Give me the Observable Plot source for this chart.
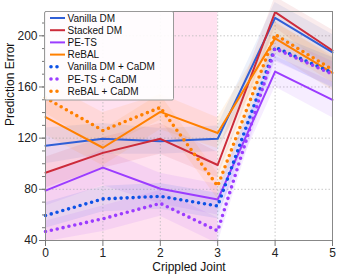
<!DOCTYPE html>
<html>
<head>
<meta charset="utf-8">
<script src="https://cdn.jsdelivr.net/npm/d3@7"></script>
<script src="https://cdn.jsdelivr.net/npm/@observablehq/plot@0.6"></script>
<style>
  html, body { margin: 0; padding: 0; background: #fff; }
  #chart { position: relative; width: 349px; height: 279px; }
</style>
</head>
<body>
<div id="chart"></div>
<script>
const joints = [0, 1, 2, 3, 4, 5];
const seriesNames = ["Vanilla DM", "Stacked DM", "PE-TS", "ReBAL", "Vanilla DM + CaDM", "PE-TS + CaDM", "ReBAL + CaDM"];
const seriesColors = ["#2f5fd6", "#cc2b3a", "#9b3cff", "#ff8000", "#0d52e6", "#9b3cff", "#ff8000"];
const seriesDotted = [false, false, false, false, true, true, true];

const vanillaDM   = [114, 119.5, 117.5, 119.5, 214, 187];
const stackedDM   = [93, 108.5, 119.5, 99, 218.5, 188.5];
const peTS        = [79, 97, 80.5, 72, 172, 150];
const reBAL       = [136.5, 112.5, 140.5, 124, 198, 171];
const vanillaCaDM = [59.5, 72.5, 74.5, 67, 191, 171];
const peTSCaDM    = [47, 57, 69, 47.5, 190, 170];
const reBALCaDM   = [151.5, 126, 144, 82.5, 201, 173.5];

const vanillaDMErr   = [14, 12, 10, 10, 12, 14];
const stackedDMErr   = [12, 12, 12, 10, 12, 16];
const peTSErr        = [12, 14, 12, 12, 12, 14];
const reBALErr       = [14, 14, 14, 12, 12, 14];
const vanillaCaDMErr = [10, 10, 10, 10, 10, 12];
const peTSCaDMErr    = [8, 10, 10, 10, 10, 10];
const reBALCaDMErr   = [12, 14, 10, 10, 10, 10];

const shadedRegion = [0, 3];
const yTicks = [40, 80, 120, 160, 200];
const yMinorTicks = d3.range(40, 220, 10);
const xTicks = [0, 1, 2, 3, 4, 5];

const values = [vanillaDM, stackedDM, peTS, reBAL, vanillaCaDM, peTSCaDM, reBALCaDM];
const errs = [vanillaDMErr, stackedDMErr, peTSErr, reBALErr, vanillaCaDMErr, peTSCaDMErr, reBALCaDMErr];

const rows = [];
seriesNames.forEach((name, s) => {
  joints.forEach((j, i) => {
    rows.push({series: name, s, joint: j, value: values[s][i], lo: values[s][i] - errs[s][i], hi: values[s][i] + errs[s][i]});
  });
});

const marks = [
  Plot.rectX([shadedRegion], {x1: d => d[0], x2: d => d[1], fill: "#ff69b4", fillOpacity: 0.2}),
  Plot.gridX(xTicks, {stroke: "#bbb", strokeOpacity: 1, strokeDasharray: "1.5,2", strokeWidth: 0.8}),
  Plot.gridY(yTicks, {stroke: "#bbb", strokeOpacity: 1, strokeDasharray: "1.5,2", strokeWidth: 0.8}),
];
seriesNames.forEach((name, s) => {
  marks.push(Plot.areaY(rows.filter(r => r.s === s), {x: "joint", y1: "lo", y2: "hi", fill: seriesColors[s], fillOpacity: 0.09, curve: "linear"}));
});
seriesNames.forEach((name, s) => {
  const data = rows.filter(r => r.s === s);
  if (seriesDotted[s]) {
    marks.push(Plot.line(data, {x: "joint", y: "value", stroke: seriesColors[s], strokeWidth: 3.6, strokeDasharray: "0,6", strokeLinecap: "round", strokeLinejoin: "round"}));
  } else {
    marks.push(Plot.line(data, {x: "joint", y: "value", stroke: seriesColors[s], strokeWidth: 2}));
  }
});
marks.push(
  Plot.frame({stroke: "#888", strokeWidth: 1}),
  Plot.axisY(yMinorTicks, {tickSize: 3, tickFormat: () => "", stroke: "#777", label: null}),
  Plot.axisY(yTicks, {tickSize: 6, tickPadding: 2, stroke: "#777", fontSize: 12, fill: "#222", label: null}),
  Plot.axisX(xTicks, {tickSize: 6, tickPadding: 2, stroke: "#777", fontSize: 12, fill: "#222", label: null}),
  Plot.text(["Prediction Error"], {frameAnchor: "left", rotate: -90, dx: -35.5, lineAnchor: "middle", fontSize: 12, fill: "#111"}),
  Plot.text(["Crippled Joint"], {frameAnchor: "bottom", dy: 27, lineAnchor: "middle", fontSize: 12, fill: "#111"})
);

const svg = Plot.plot({
  width: 349,
  height: 279,
  marginLeft: 45,
  marginRight: 17,
  marginTop: 11,
  marginBottom: 39,
  style: {fontFamily: "'Liberation Sans', Arial, sans-serif", background: "#fff"},
  x: {domain: [0, 5], axis: null},
  y: {domain: [40, 219], axis: null},
  marks
});
document.getElementById("chart").appendChild(svg);

// Legend
const g = d3.select(svg).append("g").attr("font-family", "'Liberation Sans', Arial, sans-serif").attr("text-anchor", "start");
g.append("rect").attr("x", 44.5).attr("y", 11.5).attr("width", 129).attr("height", 88.5)
  .attr("fill", "#fff").attr("fill-opacity", 0.9).attr("stroke", "#999").attr("stroke-width", 1).attr("rx", 1.5);
seriesNames.forEach((name, s) => {
  const y = 18 + s * 12.2;
  const line = g.append("line").attr("x1", seriesDotted[s] ? 51 : 50).attr("x2", seriesDotted[s] ? 63 : 65)
    .attr("y1", y).attr("y2", y).attr("stroke", seriesColors[s]);
  if (seriesDotted[s]) line.attr("stroke-width", 3.6).attr("stroke-dasharray", "0,6").attr("stroke-linecap", "round");
  else line.attr("stroke-width", 2);
  g.append("text").attr("x", 67.5).attr("y", y).attr("dy", "0.35em").attr("font-size", 10).attr("fill", "#111").attr("text-anchor", "start").text(name);
});
</script>
</body>
</html>
